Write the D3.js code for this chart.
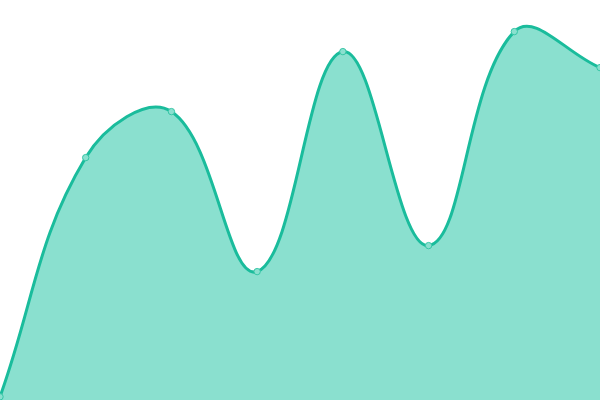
<!DOCTYPE html>
<head>
<title>Area Chart</title>
<script src="https://d3js.org/d3.v7.min.js"></script>
<style>
  body { margin: 0; background: #fff; }
</style>
</head>
<body>
<div id="home"></div>
<script>
    // values
    const labels = ["A", "B", "C", "D", "E", "F", "G", "H"];
    const values = [0.8, 60.6, 72.1, 32.1, 87.1, 38.6, 92.1, 83.1];

    const w = 600;
    const h = 400;

    // spline with distance weighted control points, tension 0.4
    function splineCurve(tension, x0, y0, x1, y1) {
        function Curve(context) { this._context = context; }
        Curve.prototype = {
            areaStart: function() { this._line = 0; },
            areaEnd: function() { this._line = NaN; },
            lineStart: function() { this._xs = []; this._ys = []; },
            point: function(x, y) { this._xs.push(+x); this._ys.push(+y); },
            lineEnd: function() {
                const xs = this._xs, ys = this._ys, n = xs.length, c = this._context;
                if (n) {
                    this._line ? c.lineTo(xs[0], ys[0]) : c.moveTo(xs[0], ys[0]);
                    const cap = (v, a, b) => Math.max(a, Math.min(b, v));
                    const cp = [];
                    for (let i = 0; i < n; i++) {
                        const p = i > 0 ? i - 1 : i, q = i < n - 1 ? i + 1 : i;
                        const d01 = Math.hypot(xs[i] - xs[p], ys[i] - ys[p]);
                        const d12 = Math.hypot(xs[q] - xs[i], ys[q] - ys[i]);
                        const s = d01 + d12 || 1;
                        const fa = tension * d01 / s, fb = tension * d12 / s;
                        const dx = xs[q] - xs[p], dy = ys[q] - ys[p];
                        cp.push({
                            px: cap(xs[i] - fa * dx, x0, x1), py: cap(ys[i] - fa * dy, y0, y1),
                            nx: cap(xs[i] + fb * dx, x0, x1), ny: cap(ys[i] + fb * dy, y0, y1)
                        });
                    }
                    for (let i = 1; i < n; i++) {
                        c.bezierCurveTo(cp[i - 1].nx, cp[i - 1].ny, cp[i].px, cp[i].py, xs[i], ys[i]);
                    }
                }
                if (this._line || (this._line !== 0 && n === 1)) c.closePath();
                this._line = 1 - this._line;
            }
        };
        return (context) => new Curve(context);
    }

    const svg = d3.select("#home")
                  .append("svg")
                  .attr("width", w)
                  .attr("height", h)
                  .style("display", "block")

    const xScale = d3.scalePoint()
                     .domain(labels)
                     .range([0, w])
    const yScale = d3.scaleLinear()
                     .domain([0, 100])
                     .range([h, 0])

    const curve = splineCurve(0.4, 0, 0, w, h);

    const area = d3.area()
                   .x((d, i) => xScale(labels[i]))
                   .y0(h)
                   .y1((d) => yScale(d))
                   .curve(curve)
    const line = d3.line()
                   .x((d, i) => xScale(labels[i]))
                   .y((d) => yScale(d))
                   .curve(curve)

    svg.append("path")
       .datum(values)
       .attr("d", area)
       .attr("fill", "#8ae0cf")
    svg.append("path")
       .datum(values)
       .attr("d", line)
       .attr("fill", "none")
       .attr("stroke", "#1abc9c")
       .attr("stroke-width", 3)

    svg.selectAll("circle")
       .data(values)
       .enter()
       .append("circle")
       .attr("cx", (d, i) => xScale(labels[i]))
       .attr("cy", (d) => yScale(d))
       .attr("r", 3.2)
       .attr("fill", "#8ae0cf")
       .attr("stroke", "#36c6a6")
       .attr("stroke-width", 1)
</script>
</body>
